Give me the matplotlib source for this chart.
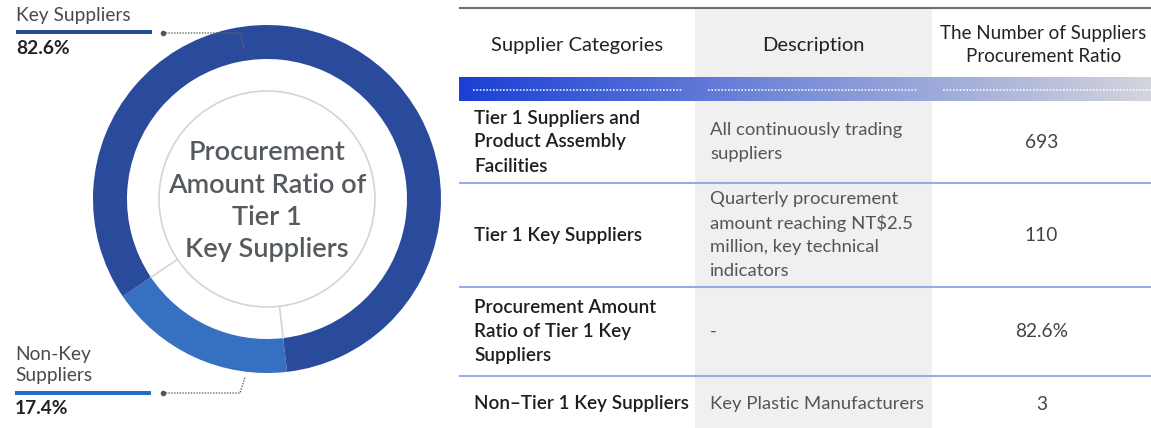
import numpy as np
import matplotlib
matplotlib.use("Agg")
from matplotlib import pyplot as plt
from matplotlib.colors import LinearSegmentedColormap
from matplotlib.patches import Rectangle, Circle

plt.rcParams['font.family'] = ['Lato', 'DejaVu Sans']

# donut data
shares = [17.4, 82.6]
share_names = ['Non-Key\nSuppliers', 'Key Suppliers']
ring_colors = ['#3570c1', '#2a4a9b']
center_title = ['Procurement', 'Amount Ratio of', 'Tier 1', 'Key Suppliers']

# table data
headers = ['Supplier Categories', 'Description', 'The Number of Suppliers\nProcurement Ratio']
categories = [
    ['Tier 1 Suppliers and', 'Product Assembly', 'Facilities'],
    ['Tier 1 Key Suppliers'],
    ['Procurement Amount', 'Ratio of Tier 1 Key', 'Suppliers'],
    ['Non\u2013Tier 1 Key Suppliers'],
]
descriptions = [
    ['All continuously trading', 'suppliers'],
    ['Quarterly procurement', 'amount reaching NT$2.5', 'million, key technical', 'indicators'],
    ['-'],
    ['Key Plastic Manufacturers'],
]
values = ['693', '110', '82.6%', '3']

W, H = 1151, 428
fig = plt.figure(figsize=(W / 100, H / 100), dpi=100)
ax = fig.add_axes([0, 0, 1, 1])

# ---- donut ----
cx, cy = 267, 199
R, ring_w = 174, 34
start = 146
ax.pie(shares, colors=ring_colors, startangle=start, counterclock=False,
       center=(cx, cy), radius=R, wedgeprops=dict(width=ring_w, linewidth=0))
ax.add_patch(Circle((cx, cy), 108, fc='none', ec='#d4d4d4', lw=1.2))
bounds = start - np.cumsum([0] + shares[:-1]) * 3.6
for a in np.deg2rad(bounds):
    ax.plot([cx + 108 * np.cos(a), cx + (R - ring_w) * np.cos(a)],
            [cy + 108 * np.sin(a), cy + (R - ring_w) * np.sin(a)],
            color='#d4d4d4', lw=1.2)

for i, line in enumerate(center_title):
    ax.text(cx, 153 + i * 32, line, ha='center', va='center', fontsize=19.5,
            color='#555a5f', fontweight='semibold')

# labels
ax.text(16, 15, share_names[1], fontsize=13.8, color='#4a4a4a', va='center')
ax.add_patch(Rectangle((16, 29.5), 136, 4, color=ring_colors[1], lw=0))
ax.text(16, 48, f'{shares[1]}%', fontsize=13.8, color='#222', va='center', fontweight='bold')
ax.plot([163, 240, 245], [33, 33, 50], color='#666', lw=1, ls=(0, (1, 1)))
ax.plot(163, 33, 'o', color='#555', ms=3)

ax.text(15, 365, share_names[0], fontsize=13.8, color='#4a4a4a', va='center', linespacing=1.25)
ax.add_patch(Rectangle((15, 391), 136, 4, color='#1f6cc9', lw=0))
ax.text(15, 409, f'{shares[0]}%', fontsize=13.8, color='#222', va='center', fontweight='bold')
ax.plot([163, 240, 245], [393, 393, 377], color='#666', lw=1, ls=(0, (1, 1)))
ax.plot(163, 393, 'o', color='#555', ms=3)

# ---- table ----
col_x = [460, 695, 932, W]
ax.add_patch(Rectangle((col_x[1], 8), col_x[2] - col_x[1], H - 8, color='#f0f0f0', lw=0))
ax.plot([col_x[0], W], [7.5, 7.5], color='#6e6e6e', lw=1.5)

head_sizes = [14.5, 14.5, 13.5]
for j, h in enumerate(headers):
    ax.text((col_x[j] + col_x[j + 1]) / 2 + (0 if j < 2 else 2), 45, h, ha='center', va='center',
            fontsize=head_sizes[j], color='#222', linespacing=1.45)

grad = LinearSegmentedColormap.from_list('g', ['#1a3fd5', '#7c90d8', '#d3d4dc'])
ax.imshow(np.linspace(0, 1, 256)[None, :], cmap=grad, aspect='auto',
          extent=(459, W, 101, 77), zorder=3)
for x0, x1 in [(473, 682), (708, 918), (943, W)]:
    ax.plot([x0, x1], [90, 90], color='white', lw=1.2, ls=(0, (1, 1)), zorder=4, alpha=0.9)

row_top = [101, 183, 287, 376]
row_bot = [183, 287, 376, H]
lh = 24
for i in range(len(values)):
    yc = (row_top[i] + row_bot[i]) / 2
    if i == 3:
        yc = 404
    if i < 3:
        ax.plot([col_x[0], W], [row_bot[i], row_bot[i]], color='#9aa9e8', lw=1.5, zorder=2)
    for k, t in enumerate(categories[i]):
        y = yc + (k - (len(categories[i]) - 1) / 2) * lh
        ax.text(474, y, t, va='center', fontsize=13.6, color='#1e1e1e', fontweight='semibold')
    for k, t in enumerate(descriptions[i]):
        y = yc + (k - (len(descriptions[i]) - 1) / 2) * lh
        ax.text(710, y, t, va='center', fontsize=13.3, color='#555')
    ax.text((col_x[2] + col_x[3]) / 2, yc, values[i], ha='center', va='center',
            fontsize=13.8, color='#444')

ax.set_xlim(0, W)
ax.set_ylim(H, 0)
ax.set_aspect('auto')
ax.axis('off')
fig.savefig('out.png', dpi=100)
